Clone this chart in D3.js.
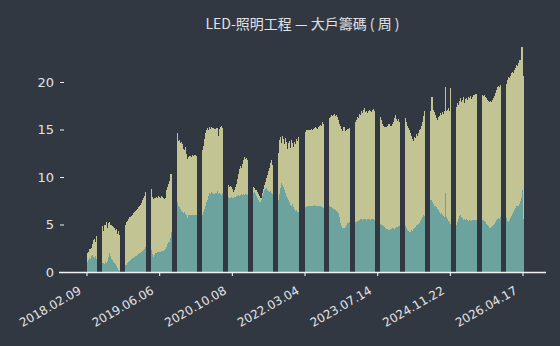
<!DOCTYPE html>
<html>
<head>
<meta charset="utf-8">
<script src="https://cdn.jsdelivr.net/npm/d3@7"></script>
<style>
  html, body { margin: 0; padding: 0; background: #323842; }
  svg { display: block; }
  .axis text { fill: #e2e2e2; font-family: "DejaVu Sans", sans-serif; font-size: 12px; }
  .y-axis text { font-size: 13px; }
  .axis line, .axis path { stroke: #f2f2f2; }
  .title { fill: #e2e2e2; font-family: "Noto Sans CJK TC", "Noto Sans", sans-serif; font-size: 14px; }
</style>
</head>
<body>
<div id="chart"></div>
<script>
// weekly values, null = no bar drawn in the picture
const totalValues = [
  2.0, 2.1, 2.4, 2.4, 2.5, 3.0, 3.4, 3.5, 3.2, 3.8,
  null, null, null, null, null,
  4.8, 4.3, 4.9, 5.0, 5.3, 4.6, 5.2, 5.3, 4.9, 5.0, 4.8, 4.7, 4.6, 4.4, 4.5, 4.0, 4.3, 3.9,
  null, null, null, null, null,
  5.0, 5.3, 5.4, 5.6, 5.8, 5.9, 6.0, 6.2, 6.3, 6.4, 6.5, 6.6, 6.8, 7.0, 7.1, 7.3, 7.6, 7.8, 8.0, 8.4,
  null, null, null, null, null,
  8.7, 7.9, 7.7, 7.8, 7.8, 7.9, 7.8, 8.0, 7.9, 7.8, 8.0, 7.9, 7.8, 7.7, 7.8, 8.6, 9.0, 9.3, 9.6, 10.3,
  null, null, null, null, null,
  14.6, 13.8, 13.9, 13.6, 13.7, 13.5, 13.0, 12.8, 13.2, 12.4, 11.9, 12.1, 12.2, 12.2, 12.1, 12.3, 12.2, 12.3, 12.3, 12.2,
  null, null, null, null, null,
  12.8, 13.3, 14.0, 14.6, 15.0, 15.2, 15.0, 15.3, 15.1, 15.3, 15.2, 15.0, 15.1, 13.9, 15.2, 14.3, 15.1, 15.3, 15.4, 15.2,
  null, null, null, null, null,
  9.2, 9.0, 9.1, 8.9, 8.7, 8.4, 8.6, 8.9, 9.3, 9.8, 10.3, 10.8, 11.2, 11.0, 11.4, 11.8, 12.1, 11.9, 12.0, 11.8,
  null, null, null, null, null,
  9.0, 8.8, 8.6, 8.4, 8.2, 8.0, 7.6, 7.8, 8.3, 8.7, 9.2, 9.5, 9.9, 10.2, 10.6, 11.0, 11.5, 11.8, 11.3,
  null, null, null, null, null,
  12.5, 13.9, 14.2, 13.6, 14.3, 14.0, 13.5, 14.1, 13.7, 12.9, 13.6, 13.8, 13.1, 13.9, 13.6, 13.2, 13.7, 13.5, 14.0, 13.8, 14.2,
  null, null, null, null, null,
  14.7, 14.9, 14.9, 15.0, 14.9, 15.0, 15.1, 15.0, 15.1, 15.2, 15.3, 15.2, 15.1, 15.3, 15.4, 15.5, 15.4, 15.8, 15.6,
  null, null, null, null, null,
  16.2, 16.3, 16.5, 16.4, 16.5, 16.6, 16.4, 16.5, 16.3, 16.0, 15.6, 15.4, 15.1, 14.8, 15.3, 14.0, 14.8, 15.0, 15.1, 15.2,
  null, null, null, null, null,
  15.8, 16.0, 16.3, 16.2, 16.6, 16.5, 16.9, 16.7, 17.1, 17.3, 16.8, 17.0, 16.7, 16.9, 17.1, 17.0, 16.8, 17.1, 17.2, 17.0,
  null, null, null, null, null,
  16.3, 16.0, 15.6, 15.4, 15.3, 15.3, 15.3, 15.4, 15.6, 15.3, 15.4, 15.6, 15.8, 16.2, 16.5, 16.1, 15.9, 16.1, 15.8,
  null, null, null, null, null,
  16.2, 15.8, 15.4, 15.2, 15.0, 14.6, 14.3, 14.0, 13.8, 14.2, 14.1, 14.5, 14.3, 14.6, 14.9, 15.1, 15.4, 15.8, 16.4, 16.9,
  null, null, null, null, null,
  17.0, 18.4, 17.1, 16.8, 16.5, 16.2, 16.0, 16.3, 16.4, 16.7, 16.5, 16.8, 16.6, 16.9, 19.5, 16.9, 17.1, 17.3, 17.0, 19.4,
  null, null, null, null, null,
  17.4, 17.8, 17.6, 18.0, 18.3, 17.9, 18.1, 18.4, 17.8, 18.2, 18.3, 18.1, 18.4, 18.3, 18.5, 18.2, 18.4, 18.6, 18.5, 18.7,
  null, null, null, null, null,
  18.6, 18.5, 18.6, 18.4, 18.3, 18.1, 18.0, 17.9, 18.0, 17.9, 18.1, 18.3, 18.5, 18.8, 19.2, 19.5, 19.6, 19.5, 19.7,
  null, null, null, null, null,
  19.8, 20.2, 20.5, 20.4, 20.6, 20.9, 21.1, 21.0, 21.3, 21.5, 21.8, 21.7, 22.0, 22.3, 22.2, 23.7, 20.6
];

const bigHolderValues = [
  1.1, 1.3, 1.5, 1.4, 1.7, 1.8, 1.6, 1.5, 1.7, 1.4,
  null, null, null, null, null,
  0.9, 1.0, 0.8, 1.1, 1.0, 1.2, 1.6, 2.0, 1.7, 1.4, 1.3, 1.1, 0.9, 0.8, 0.6, 0.4, 0.2, 0.1,
  null, null, null, null, null,
  0.7, 0.9, 1.1, 1.2, 1.3, 1.4, 1.5, 1.5, 1.6, 1.7, 1.7, 1.8, 1.9, 2.0, 2.0, 2.1, 2.2, 2.3, 2.4, 2.6,
  null, null, null, null, null,
  2.3, 1.9, 1.6, 1.8, 2.0, 2.0, 2.1, 2.1, 2.1, 2.1, 2.2, 2.2, 2.2, 2.3, 2.4, 2.6, 2.9, 3.2, 3.6, 4.2,
  null, null, null, null, null,
  7.4, 7.0, 6.8, 6.6, 6.4, 6.3, 6.2, 6.3, 6.1, 6.0, 5.7, 6.0, 6.0, 6.0, 6.0, 6.0, 6.0, 6.0, 6.0, 6.0,
  null, null, null, null, null,
  6.0, 6.3, 6.6, 7.0, 7.4, 7.6, 8.0, 8.3, 8.2, 8.4, 8.3, 8.2, 8.4, 8.3, 8.5, 8.2, 8.3, 8.2, 8.1, 8.3,
  null, null, null, null, null,
  7.9, 7.8, 7.8, 7.9, 7.8, 7.8, 7.9, 7.9, 8.0, 8.0, 8.1, 8.0, 8.1, 8.2, 8.1, 8.2, 8.1, 8.2, 8.2, 8.1,
  null, null, null, null, null,
  8.3, 8.4, 8.2, 8.0, 7.8, 7.6, 7.4, 7.6, 8.0, 8.3, 8.6, 8.7, 8.8, 8.6, 8.5, 8.4, 8.5, 8.3, 8.2,
  null, null, null, null, null,
  7.6, 8.2, 8.8, 9.4, 9.2, 8.9, 8.6, 8.3, 8.0, 7.8, 7.6, 7.4, 7.1, 6.9, 7.2, 6.8, 6.6, 6.4, 6.5, 6.3, 6.3,
  null, null, null, null, null,
  6.8, 6.8, 6.9, 6.9, 7.0, 6.9, 7.0, 7.0, 7.0, 7.1, 6.9, 7.0, 7.0, 7.0, 7.0, 6.9, 6.8, 6.8, 6.7,
  null, null, null, null, null,
  6.9, 6.8, 6.8, 6.7, 6.6, 6.6, 6.5, 6.4, 6.3, 6.2, 5.8, 5.2, 4.8, 4.6, 4.6, 4.7, 5.0, 5.2, 5.2, 5.3,
  null, null, null, null, null,
  5.3, 5.3, 5.4, 5.4, 5.5, 5.6, 5.6, 5.5, 5.6, 5.6, 5.6, 5.5, 5.6, 5.6, 5.6, 5.5, 5.6, 5.6, 5.6, 5.5,
  null, null, null, null, null,
  5.1, 5.0, 4.9, 4.8, 4.7, 4.6, 4.5, 4.5, 4.4, 4.5, 4.5, 4.6, 4.6, 4.5, 4.6, 4.7, 4.7, 4.8, 4.8,
  null, null, null, null, null,
  4.8, 4.6, 4.4, 4.3, 4.2, 4.2, 4.4, 4.3, 4.5, 4.6, 4.7, 4.9, 5.0, 5.1, 5.2, 5.4, 5.6, 5.8, 6.0, 5.9,
  null, null, null, null, null,
  7.6, 7.7, 7.4, 7.2, 7.0, 6.8, 6.6, 6.5, 6.3, 6.1, 6.2, 6.0, 5.9, 5.8, 8.3, 5.8, 5.6, 5.4, 5.3, 5.1,
  null, null, null, null, null,
  5.0, 5.3, 5.6, 5.9, 6.0, 5.8, 5.7, 5.5, 5.6, 5.5, 5.6, 5.5, 5.4, 5.5, 5.5, 5.4, 5.5, 5.5, 5.5, 5.5,
  null, null, null, null, null,
  5.5, 5.5, 5.4, 5.3, 5.1, 5.0, 4.8, 4.6, 4.6, 4.7, 4.8, 5.0, 5.1, 5.3, 5.5, 5.6, 5.7, 5.6, 5.8,
  null, null, null, null, null,
  5.7, 5.4, 5.3, 5.5, 5.7, 5.9, 6.1, 6.3, 6.5, 6.7, 6.9, 7.0, 7.2, 7.5, 7.8, 8.6, 5.6
];

// tick labels sit every 71 weeks, first one on week 0
const tickIndex = [0, 71, 142, 213, 284, 355, 426];
const tickLabels = ["2018.02.09", "2019.06.06", "2020.10.08", "2022.03.04", "2023.07.14", "2024.11.22", "2026.04.17"];
const yTicks = [0, 5, 10, 15, 20];

const width = 560, height = 346;
const margin = {top: 34.5, right: 36, bottom: 74, left: 64};

const svg = d3.select('#chart').append('svg')
    .attr('width', width)
    .attr('height', height);

svg.append('rect').attr('width', width).attr('height', height).attr('fill', '#323842');

svg.append('text')
    .attr('class', 'title')
    .attr('x', 302.5)
    .attr('y', 29)
    .attr('text-anchor', 'middle')
    .text('LED-照明工程 — 大戶籌碼 ( 周 )');

const n = totalValues.length;
const weeks = d3.range(n);

const xScale = d3.scaleBand()
    .domain(weeks)
    .range([86.5, 86.5 + 1.0235 * n])
    .padding(0);

const yScale = d3.scaleLinear()
    .domain([0, 25])
    .range([height - margin.bottom, margin.top]);

// build stack table: lower = big holders, upper = rest of the total
const rows = weeks.filter(i => totalValues[i] != null).map(i => ({
  i: i,
  big: bigHolderValues[i],
  rest: totalValues[i] - bigHolderValues[i]
}));

const stacked = d3.stack().keys(['big', 'rest'])(rows);
const colors = {big: '#6ca39f', rest: '#c2c493'};

svg.append('g')
    .attr('shape-rendering', 'crispEdges')
  .selectAll('g')
  .data(stacked)
  .join('g')
    .attr('fill', d => colors[d.key])
  .selectAll('rect')
  .data(d => d)
  .join('rect')
    .attr('x', d => xScale(d.data.i))
    .attr('y', d => yScale(d[1]))
    .attr('width', xScale.bandwidth() + 0.1)
    .attr('height', d => yScale(d[0]) - yScale(d[1]));

// x axis
const xAxis = d3.axisBottom(xScale)
    .tickValues(tickIndex)
    .tickFormat((d, k) => tickLabels[k])
    .tickSize(4)
    .tickSizeOuter(0);

const xAxisG = svg.append('g')
    .attr('class', 'axis x-axis')
    .attr('transform', `translate(0,${yScale(0)})`)
    .call(xAxis);

xAxisG.select('.domain').remove();
xAxisG.append('line')
    .attr('x1', 59).attr('x2', 546)
    .attr('y1', 0.5).attr('y2', 0.5)
    .attr('stroke-width', 1.3);

xAxisG.selectAll('.tick line').attr('stroke-width', 1.1);
xAxisG.selectAll('.tick text')
    .attr('text-anchor', 'end')
    .attr('dy', null)
    .attr('y', 0)
    .attr('transform', 'translate(-5,21) rotate(-30)');

// y axis
const yAxis = d3.axisLeft(yScale)
    .tickValues(yTicks)
    .tickSize(4)
    .tickPadding(6);

const yAxisG = svg.append('g')
    .attr('class', 'axis y-axis')
    .attr('transform', `translate(${margin.left},0)`)
    .call(yAxis);

yAxisG.select('.domain').remove();
</script>
</body>
</html>
